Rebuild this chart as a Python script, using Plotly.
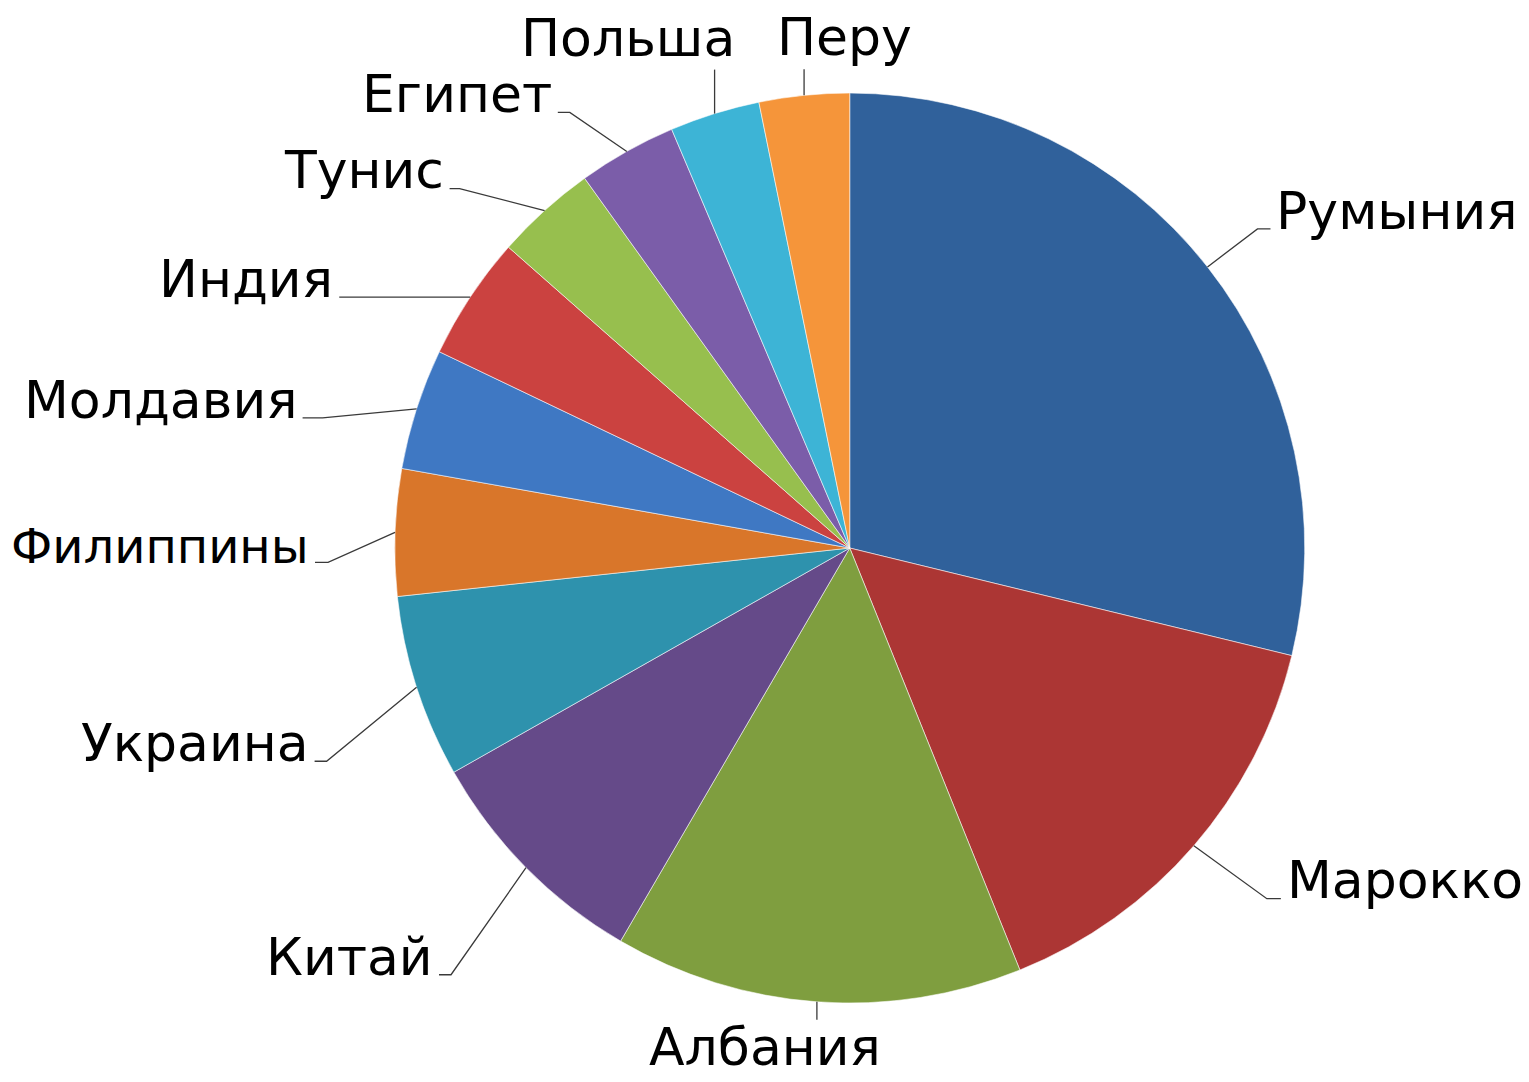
import math
import plotly.graph_objects as go

# ---- data ----
countries = ["Румыния", "Марокко", "Албания", "Китай", "Украина", "Филиппины",
             "Молдавия", "Индия", "Тунис", "Египет", "Польша", "Перу"]
shares = [28.8, 15.1, 14.5, 8.4, 6.5, 4.5, 4.3, 4.4, 3.6, 3.5, 3.2, 3.2]
colors = ["#30619B", "#AC3634", "#7F9E3F", "#654A89", "#2E92AD", "#D9762A",
          "#3F78C3", "#CB4240", "#97BF4E", "#7B5DA9", "#3DB4D6", "#F5953A"]

# ---- layout settings (label placement relative to slice anchor, in px) ----
W, H = 1529, 1082
dom_x = [0.258, 0.8535]
dom_y = [0.073, 0.914]
FS = 52
# (elbow dx, elbow dy, horizontal tail, text mode, text dx, text dy, font size)
label_layout = {
    "Румыния":   (50, -38, 13, "right", 0, 0, FS),
    "Марокко":   (73, 53, 14, "right", 0, 0, FS),
    "Албания":   (0, 18, 0, "below", -52, 27, FS),
    "Китай":     (-75, 107, -12, "left", 0, 0, FS),
    "Украина":   (-90, 74, -12, "left", 0, 0, FS),
    "Филиппины": (-67, 30, -13, "left", 0, 0, 48),
    "Молдавия":  (-94, 9, -20, "left", 0, 0, FS),
    "Индия":     (-118, 0, -13, "left", 0, 0, FS),
    "Тунис":     (-85, -22, -10, "left", 0, 0, FS),
    "Египет":    (-57, -39, -12, "left", 0, 0, FS),
    "Польша":    (0, -44, 0, "above", -87, -32, FS),
    "Перу":      (0, -26, 0, "above", 40, -32, FS),
}

fig = go.Figure(go.Pie(
    labels=countries, values=shares, sort=False, direction="clockwise", rotation=0,
    marker=dict(colors=colors, line=dict(color="rgba(255,255,255,0.55)", width=1)),
    textinfo="none", hoverinfo="label+percent", showlegend=False,
    domain=dict(x=dom_x, y=dom_y),
))

# pie geometry in pixels
cx = (dom_x[0] + dom_x[1]) / 2 * W
cy = (1 - (dom_y[0] + dom_y[1]) / 2) * H
R = min((dom_x[1] - dom_x[0]) * W, (dom_y[1] - dom_y[0]) * H) / 2

def px2paper(x, y):
    return x / W, 1 - y / H

total = sum(shares)
cum = 0.0
shapes, annotations = [], []
for name, v in zip(countries, shares):
    mid = (cum + v / 2) / total * 2 * math.pi
    cum += v
    ax = cx + R * math.sin(mid)
    ay = cy - R * math.cos(mid)
    edx, edy, tail, mode, tdx, tdy, fs = label_layout[name]
    ex, ey = ax + edx, ay + edy
    tx = ex + tail
    p0 = px2paper(ax, ay); p1 = px2paper(ex, ey); p2 = px2paper(tx, ey)
    path = f"M {p0[0]},{p0[1]} L {p1[0]},{p1[1]}"
    if tail:
        path += f" L {p2[0]},{p2[1]}"
    shapes.append(dict(type="path", xref="paper", yref="paper", path=path,
                       line=dict(color="#3a3a3a", width=1.3)))
    if mode == "right":
        lx, ly, xa = tx + 4, ey - 0.35 * fs, "left"
    elif mode == "left":
        lx, ly, xa = tx - 4, ey - 0.35 * fs, "right"
    else:
        lx, ly, xa = ex + tdx, ey + tdy, "center"
    qx, qy = px2paper(lx, ly)
    annotations.append(dict(x=qx, y=qy, xref="paper", yref="paper", text=name,
                            showarrow=False, xanchor=xa, yanchor="middle",
                            font=dict(family="DejaVu Sans", size=fs, color="black")))

fig.update_layout(
    width=W, height=H, margin=dict(l=0, r=0, t=0, b=0),
    paper_bgcolor="white", plot_bgcolor="white",
    shapes=shapes, annotations=annotations,
)
fig.write_html("out.html", config={"displayModeBar": False},
               post_script="document.body.style.margin='0px';")
